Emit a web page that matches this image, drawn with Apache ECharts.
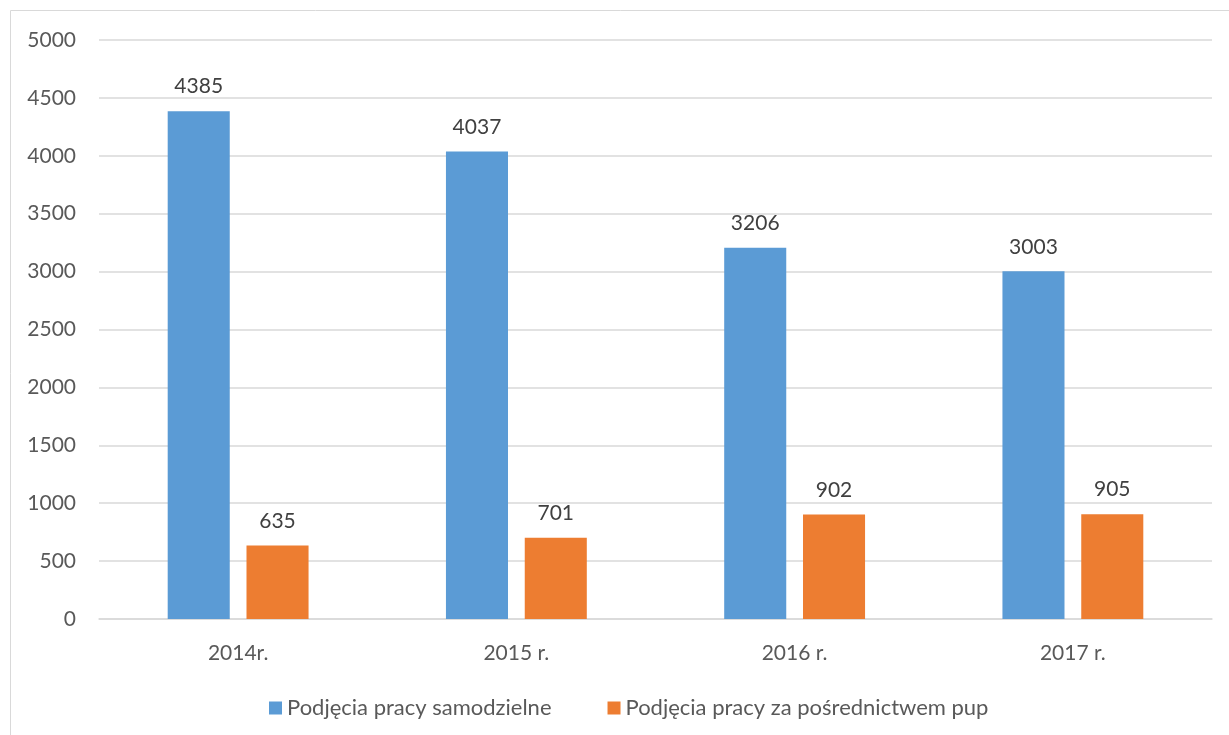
<!DOCTYPE html>
<html><head><meta charset="utf-8">
<script src="https://cdn.jsdelivr.net/npm/echarts@6/dist/echarts.min.js"></script>
<style>html,body{margin:0;padding:0;background:#fff}#c{width:1229px;height:735px}</style>
</head><body><div id="c"></div>
<script>
const categories = ['2014r.', '2015 r.', '2016 r.', '2017 r.'];
const seriesNames = ['Podjęcia pracy samodzielne', 'Podjęcia pracy za pośrednictwem pup'];
const samodzielne = [4385, 4037, 3206, 3003];
const posrednictwo = [635, 701, 902, 905];
const yTicks = [0, 500, 1000, 1500, 2000, 2500, 3000, 3500, 4000, 4500, 5000];

const font = 'Lato, "Open Sans", sans-serif';
const txt = '#595959';
const fs = 21;
const chart = echarts.init(document.getElementById('c'), null, {renderer: 'canvas'});
chart.setOption({
  animation: false,
  textStyle: {fontFamily: font},
  graphic: [{type: 'rect', shape: {x: 10.5, y: 10.5, width: 1240, height: 740}, style: {fill: 'none', stroke: '#D9D9D9', lineWidth: 1}, silent: true}],
  grid: {left: 99, right: 17, top: 40, bottom: 116, containLabel: false},
  legend: {
    top: 692, left: 264, itemWidth: 13, itemHeight: 13, itemGap: 56,
    icon: 'rect',
    textStyle: {color: txt, fontSize: 22, fontFamily: font},
    data: seriesNames
  },
  xAxis: {
    type: 'category', data: categories,
    axisLine: {lineStyle: {color: '#D9D9D9', width: 1.5}},
    axisTick: {show: false},
    axisLabel: {color: txt, fontSize: fs, margin: 24, fontFamily: font}
  },
  yAxis: {
    type: 'value', min: yTicks[0], max: yTicks[yTicks.length - 1], interval: 500,
    axisLine: {show: false}, axisTick: {show: false},
    axisLabel: {color: txt, fontSize: fs, margin: 23, fontFamily: font, formatter: v => String(v)},
    splitLine: {lineStyle: {color: '#D9D9D9', width: 1.5}}
  },
  series: [
    {name: seriesNames[0], type: 'bar', data: samodzielne, barWidth: '22.3%', barGap: '27%',
     itemStyle: {color: '#5B9BD5'},
     label: {show: true, position: 'top', distance: 14, color: '#404040', fontSize: fs, fontFamily: font}},
    {name: seriesNames[1], type: 'bar', data: posrednictwo, barWidth: '22.3%', barGap: '27%',
     itemStyle: {color: '#ED7D31'},
     label: {show: true, position: 'top', distance: 14, color: '#404040', fontSize: fs, fontFamily: font}}
  ]
});
</script></body></html>
